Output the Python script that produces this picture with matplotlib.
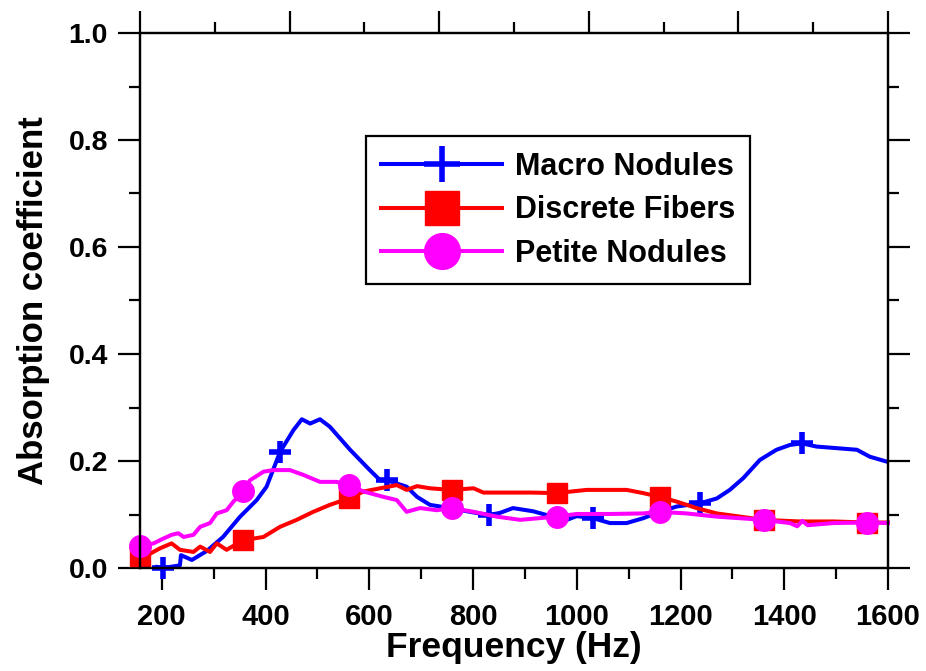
import numpy as np
import matplotlib.pyplot as plt
from matplotlib.ticker import MultipleLocator

plt.rcParams['font.family'] = ['Liberation Sans', 'DejaVu Sans']
plt.rcParams['font.weight'] = 'bold'

# Macro Nodules (blue)
macro_freq = [191, 203, 235, 237, 258, 287, 318, 351, 383, 402, 428, 454, 470, 486,
              505, 524, 544, 563, 582, 601, 621, 634, 672, 692, 717, 756, 794, 830,
              852, 877, 916, 942, 981, 1000, 1032, 1064, 1096, 1128, 1160, 1193, 1238,
              1270, 1295, 1321, 1353, 1385, 1411, 1434, 1462, 1501, 1540, 1565, 1597]
macro_val = [0.002, 0.0, 0.005, 0.024, 0.015, 0.032, 0.058, 0.096, 0.127, 0.152, 0.217,
             0.258, 0.278, 0.270, 0.278, 0.264, 0.242, 0.221, 0.202, 0.183, 0.164, 0.164,
             0.152, 0.133, 0.118, 0.112, 0.105, 0.099, 0.103, 0.112, 0.106, 0.099, 0.090,
             0.097, 0.093, 0.084, 0.084, 0.093, 0.105, 0.115, 0.121, 0.130, 0.146, 0.168,
             0.202, 0.221, 0.230, 0.233, 0.227, 0.224, 0.221, 0.208, 0.199]
macro_marks = [203, 428, 634, 830, 1032, 1238, 1434]

# Discrete Fibers (red)
fiber_freq = [158, 178, 197, 219, 235, 261, 274, 293, 306, 325, 357, 396, 428, 460, 492,
              524, 560, 589, 621, 653, 672, 692, 717, 759, 801, 820, 846, 910, 961, 1019,
              1096, 1128, 1160, 1193, 1231, 1270, 1315, 1360, 1430, 1495, 1560, 1600]
fiber_val = [0.022, 0.027, 0.037, 0.046, 0.034, 0.030, 0.040, 0.030, 0.046, 0.034, 0.052,
             0.058, 0.077, 0.090, 0.105, 0.118, 0.130, 0.143, 0.149, 0.155, 0.146, 0.153,
             0.149, 0.146, 0.149, 0.141, 0.141, 0.141, 0.140, 0.146, 0.146, 0.140, 0.133,
             0.124, 0.112, 0.102, 0.096, 0.090, 0.087, 0.087, 0.085, 0.085]
fiber_marks = [158, 357, 560, 759, 961, 1160, 1360, 1560]

# Petite Nodules (magenta)
petite_freq = [158, 184, 203, 219, 232, 242, 261, 274, 293, 306, 325, 338, 357, 370, 396,
               415, 447, 473, 505, 537, 560, 589, 627, 653, 672, 698, 730, 759, 801, 846,
               891, 961, 1000, 1064, 1128, 1160, 1212, 1270, 1315, 1360, 1411, 1425, 1435,
               1445, 1495, 1560, 1600]
petite_val = [0.041, 0.046, 0.055, 0.062, 0.065, 0.058, 0.062, 0.077, 0.084, 0.102, 0.108,
              0.124, 0.143, 0.164, 0.180, 0.183, 0.183, 0.174, 0.161, 0.161, 0.155, 0.143,
              0.133, 0.127, 0.105, 0.112, 0.108, 0.112, 0.105, 0.096, 0.090, 0.096, 0.101,
              0.101, 0.102, 0.105, 0.102, 0.096, 0.093, 0.090, 0.084, 0.078, 0.088, 0.080,
              0.084, 0.085, 0.084]
petite_marks = [158, 357, 560, 759, 961, 1160, 1360, 1560]


def mark_idx(freq, marks):
    return [freq.index(m) for m in marks]


fig = plt.figure(figsize=(9.26, 6.71), dpi=100)
ax = fig.add_axes([140 / 926, 103 / 671, 748 / 926, 535 / 671])

ax.plot(macro_freq, macro_val, color='#0000ff', lw=2.9, marker='+', ms=16, mew=4,
        markevery=mark_idx(macro_freq, macro_marks), label='Macro Nodules', clip_on=False)
ax.plot(fiber_freq, fiber_val, color='#ff0000', lw=2.9, marker='s', ms=15,
        markevery=mark_idx(fiber_freq, fiber_marks), label='Discrete Fibers', clip_on=False)
ax.plot(petite_freq, petite_val, color='#ff00ff', lw=2.9, marker='o', ms=15.5,
        markevery=mark_idx(petite_freq, petite_marks), label='Petite Nodules', clip_on=False)

ax.set_xlim(158, 1600)
ax.set_ylim(0, 1.0)
ax.set_xticks(np.arange(200, 1601, 200))
ax.xaxis.set_minor_locator(MultipleLocator(100))
ax.set_yticks(np.arange(0, 1.01, 0.2))
ax.yaxis.set_minor_locator(MultipleLocator(0.1))
ax.set_yticklabels(['%.1f' % v for v in np.arange(0, 1.01, 0.2)])

for s in ax.spines.values():
    s.set_linewidth(1.6)
ax.tick_params(which='both', direction='out', width=1.6, right=True)
ax.tick_params(which='major', length=16)
ax.tick_params(which='minor', length=8)
ax.tick_params(axis='y', labelsize=20.5, pad=7)
ax.tick_params(axis='x', labelsize=21, pad=9)

# top axis: ticks only
ax2 = ax.twiny()
ax2.set_xlim(0, 5)
ax2.set_xticks(np.arange(0, 6, 1))
ax2.xaxis.set_minor_locator(MultipleLocator(0.5))
ax2.tick_params(which='both', direction='out', width=1.6, labeltop=False)
ax2.tick_params(which='major', length=16)
ax2.tick_params(which='minor', length=8)
for s in ax2.spines.values():
    s.set_linewidth(1.6)

ax.set_xlabel('Frequency (Hz)', fontsize=25.5, fontweight='bold', labelpad=0)
ax.set_ylabel('Absorption coefficient', fontsize=25, fontweight='bold', labelpad=13)

leg = ax.legend(loc='upper left', bbox_to_anchor=(0.302, 0.807), borderaxespad=0,
                prop={'family': 'Liberation Sans', 'weight': 'bold', 'size': 22},
                markerscale=1.66, handlelength=3.97, handletextpad=0.4,
                labelspacing=0.45, borderpad=0.5, fancybox=False, framealpha=1,
                edgecolor='black')
leg.get_frame().set_linewidth(1.6)

fig.savefig('out.png', dpi=100)
